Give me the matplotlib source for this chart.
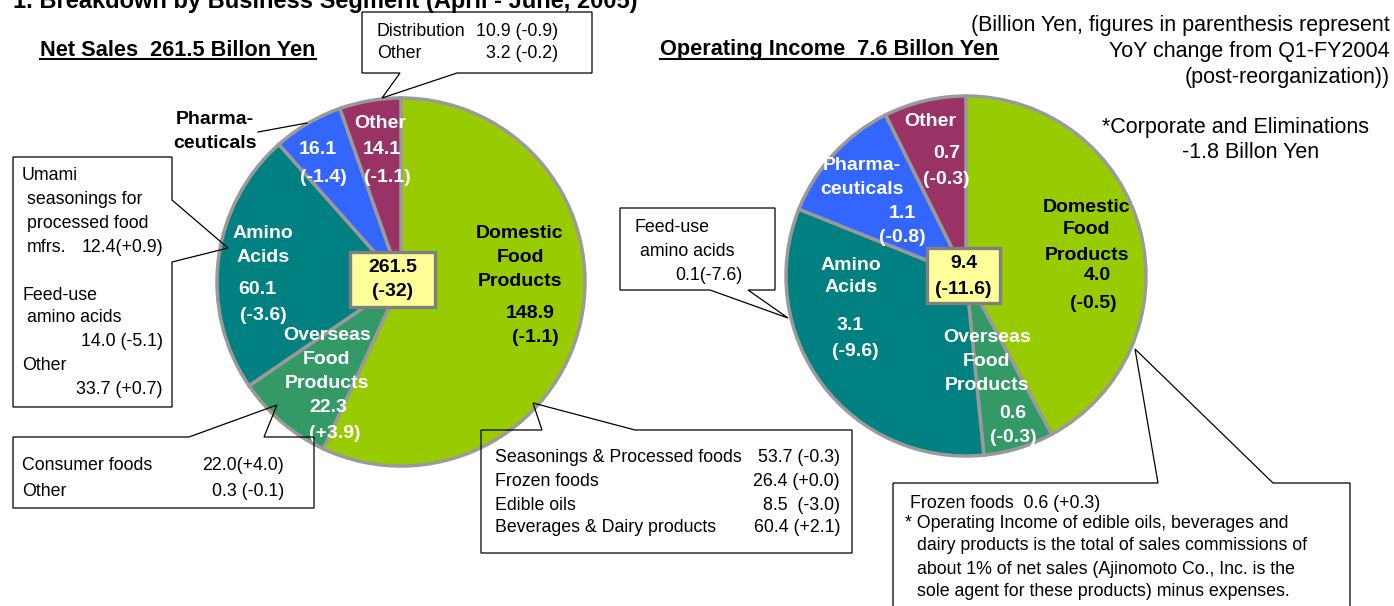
import matplotlib
matplotlib.use("Agg")
import matplotlib.pyplot as plt
from matplotlib.patches import Polygon, Rectangle

plt.rcParams['font.family'] = ['Liberation Sans', 'DejaVu Sans']

W, H = 1394, 606

# segments, clockwise from 12 o'clock
segments = ["Domestic Food Products", "Overseas Food Products", "Amino Acids",
            "Pharmaceuticals", "Other"]
name_lines = [["Domestic", "Food", "Products"], ["Overseas", "Food", "Products"],
              ["Amino", "Acids"], ["Pharma-", "ceuticals"], ["Other"]]
sales = [148.9, 22.3, 60.1, 16.1, 14.1]
sales_chg = [-1.1, 3.9, -3.6, -1.4, -1.1]
income = [4.0, 0.6, 3.1, 1.1, 0.7]
income_chg = [-0.5, -0.3, -9.6, -0.8, -0.3]
sales_total = ["261.5", "(-32)"]
income_total = ["9.4", "(-11.6)"]
net_sales = 261.5
op_income = 7.6
corporate = -1.8
colors = ["#99CC00", "#339966", "#008080", "#3366FF", "#993366"]

# breakdowns shown in the callouts
dom_items = ["Seasonings & Processed foods", "Frozen foods", "Edible oils",
             "Beverages & Dairy products"]
dom_vals = [53.7, 26.4, 8.5, 60.4]
dom_chg = [-0.3, 0.0, -3.0, 2.1]
ovs_items = ["Consumer foods", "Other"]
ovs_vals = [22.0, 0.3]
ovs_chg = [4.0, -0.1]
amino_vals = [12.4, 14.0, 33.7]
amino_chg = [0.9, -5.1, 0.7]
oth_items = ["Distribution", "Other"]
oth_vals = [10.9, 3.2]
oth_chg = [-0.9, -0.2]
feed_income = [0.1, -7.6]
frozen_income = [0.6, 0.3]


def fmt(v, c, sep=" "):
    return f"{v:.1f}{sep}({c:+.1f})"


def P(x, y):
    # pixel (from top-left) -> data coords
    return (x, H - y)


fig = plt.figure(figsize=(W / 100, H / 100), dpi=100)
ax = fig.add_axes([0, 0, 1, 1])

BOLD = 14
REG = 12.8
wp = dict(edgecolor='#9a9a9a', linewidth=2.5)

ax.pie(sales, colors=colors, startangle=90, counterclock=False,
       center=P(401, 282), radius=184, wedgeprops=wp, frame=True)
ax.pie(income, colors=colors, startangle=90, counterclock=False,
       center=P(966, 276), radius=180, wedgeprops=wp, frame=True)

ax.set_xlim(0, W)
ax.set_ylim(0, H)
ax.set_aspect('auto')
ax.axis('off')


def txt(x, y, s, **kw):
    kw.setdefault('ha', 'center')
    kw.setdefault('va', 'center')
    kw.setdefault('fontsize', REG)
    return ax.text(*P(x, y), s, **kw)


# in-pie labels: (name x, name ys, value xy, change xy, colour)
left_lab = [
    (520, [233, 257, 282], (530, 313), (535, 338), 'black'),
    (327, [336, 359, 383], (328, 407), (335, 433), 'white'),
    (263, [233, 257], (257, 290), (263, 315), 'white'),
    (215, [120, 143], (318, 150), (323, 178), 'black'),
    (380, [123], (382, 150), (387, 178), 'white'),
]
right_lab = [
    (1087, [207, 230, 255], (1097, 276), (1093, 303), 'black'),
    (987, [338, 362, 386], (1013, 413), (1013, 437), 'white'),
    (851, [265, 288], (850, 325), (855, 352), 'white'),
    (862, [165, 189], (902, 213), (902, 238), 'white'),
    (930, [122], (947, 154), (946, 179), 'white'),
]

for i, (nx, nys, vxy, cxy, col) in enumerate(left_lab):
    for s, yy in zip(name_lines[i], nys):
        txt(nx, yy, s, fontsize=BOLD, fontweight='bold', color=col)
    vcol = 'white' if i == 3 else col
    txt(*vxy, f"{sales[i]:.1f}", fontsize=BOLD, fontweight='bold', color=vcol)
    txt(*cxy, f"({sales_chg[i]:+.1f})", fontsize=BOLD, fontweight='bold', color=vcol)

for i, (nx, nys, vxy, cxy, col) in enumerate(right_lab):
    for s, yy in zip(name_lines[i], nys):
        txt(nx, yy, s, fontsize=BOLD, fontweight='bold', color=col)
    txt(*vxy, f"{income[i]:.1f}", fontsize=BOLD, fontweight='bold', color=col)
    txt(*cxy, f"({income_chg[i]:+.1f})", fontsize=BOLD, fontweight='bold', color=col)

# pharma leader line (left pie)
ax.plot(*zip(P(258, 132), P(307, 123)), color='black', lw=0.9)

# centre total boxes
for (x0, y0, x1, y1), lines, ys in [((350, 252, 435, 307), sales_total, (267, 292)),
                                     ((927, 248, 1000, 303), income_total, (263, 289))]:
    ax.add_patch(Rectangle(P(x0, y1), x1 - x0, y1 - y0, facecolor='#FFFF99',
                           edgecolor='#808080', lw=2.4, zorder=5))
    for s, yy in zip(lines, ys):
        txt((x0 + x1) / 2, yy, s, fontsize=BOLD, fontweight='bold', zorder=6)

# callout outlines
callouts = [
    [(362, 12), (592, 12), (592, 73), (457, 73), (382, 98), (400, 73), (362, 73)],
    [(13, 157), (172, 157), (172, 200), (228, 248), (172, 262), (172, 407), (13, 407)],
    [(13, 437), (189, 437), (277, 405), (264, 437), (314, 437), (314, 508), (13, 508)],
    [(481, 430), (542, 430), (533, 403), (635, 430), (852, 430), (852, 553), (481, 553)],
    [(620, 208), (775, 208), (775, 290), (748, 290), (788, 318), (710, 290), (620, 290)],
    [(893, 483), (1158, 483), (1135, 349), (1273, 483), (1350, 483), (1350, 630), (893, 630)],
]
for pts in callouts:
    ax.add_patch(Polygon([P(x, y) for x, y in pts], closed=True, fill=False,
                         edgecolor='black', lw=0.9, zorder=7))

# Other breakdown
for s, v, c, yy in zip(oth_items, oth_vals, oth_chg, [32, 53]):
    txt(377, yy, s, ha='left')
    txt(558, yy, fmt(v, c), ha='right')

# Amino acids breakdown
txt(22, 176, "Umami", ha='left')
txt(27, 200, "seasonings for", ha='left')
txt(27, 224, "processed food", ha='left')
txt(27, 247, "mfrs.", ha='left')
txt(163, 247, fmt(amino_vals[0], amino_chg[0], ""), ha='right')
txt(22, 295, "Feed-use", ha='left')
txt(27, 318, "amino acids", ha='left')
txt(163, 342, fmt(amino_vals[1], amino_chg[1]), ha='right')
txt(22, 365, "Other", ha='left')
txt(163, 389, fmt(amino_vals[2], amino_chg[2]), ha='right')

# Overseas breakdown
for s, v, c, yy, sep in zip(ovs_items, ovs_vals, ovs_chg, [466, 491], ["", " "]):
    txt(22, yy, s, ha='left')
    txt(284, yy, fmt(v, c, sep), ha='right')

# Domestic breakdown
for s, v, c, yy, sep in zip(dom_items, dom_vals, dom_chg, [458, 481, 505, 527],
                            [" ", " ", "  ", " "]):
    txt(495, yy, s, ha='left')
    txt(840, yy, fmt(v, c, sep), ha='right')

# operating income callouts
txt(635, 228, "Feed-use", ha='left')
txt(640, 252, "amino acids", ha='left')
txt(742, 275, fmt(feed_income[0], feed_income[1], ""), ha='right')

txt(910, 503, "Frozen foods  " + fmt(*frozen_income), ha='left')
note = ["* Operating Income of edible oils, beverages and",
        "dairy products is the total of sales commissions of",
        "about 1% of net sales (Ajinomoto Co., Inc. is the",
        "sole agent for these products) minus expenses."]
for k, (s, yy) in enumerate(zip(note, [523, 546, 569, 591])):
    txt(905 if k == 0 else 917, yy, s, ha='left')

# titles and notes
ax.text(*P(13, 8), "1. Breakdown by Business Segment (April - June, 2005)",
        fontsize=17, fontweight='bold', ha='left', va='baseline')

heads = [txt(40, 50, f"Net Sales  {net_sales:.1f} Billon Yen", ha='left',
             fontsize=15.7, fontweight='bold'),
         txt(660, 50, f"Operating Income  {op_income:.1f} Billon Yen",
             ha='left', fontsize=15.7, fontweight='bold')]

for s, yy in zip(["(Billion Yen, figures in parenthesis represent",
                  "YoY change from Q1-FY2004", "(post-reorganization))"], [25, 52, 78]):
    txt(1390, yy, s, ha='right', fontsize=15.5)
txt(1235, 128, "*Corporate and Eliminations", fontsize=15.5)
txt(1251, 153, f"{corporate:.1f} Billon Yen", fontsize=15.5)

# underline headings
r = fig.canvas.get_renderer()
inv = ax.transData.inverted()
for t in heads:
    bb = t.get_window_extent(renderer=r)
    (x0, y0), (x1, _) = inv.transform([(bb.x0, bb.y0 + 2), (bb.x1, bb.y0 + 2)])
    ax.plot([x0, x1], [y0, y0], color='black', lw=1.5)

fig.savefig("out.png", dpi=100)
